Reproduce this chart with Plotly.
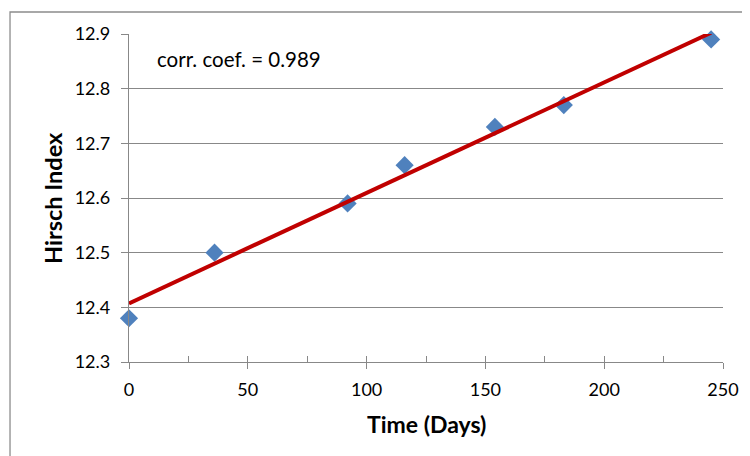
import numpy as np
import plotly.graph_objects as go

days = [0, 36, 92, 116, 154, 183, 245]
h_index = [12.38, 12.50, 12.59, 12.66, 12.73, 12.77, 12.89]
x_ticks = [0, 50, 100, 150, 200, 250]
y_ticks = [12.3, 12.4, 12.5, 12.6, 12.7, 12.8, 12.9]
corr_label = "corr. coef. = 0.989"

slope, intercept = np.polyfit(days, h_index, 1)
trend_x = [min(days), max(days)]
trend_y = [intercept + slope * v for v in trend_x]

FONT = "Lato, 'Open Sans', sans-serif"
GRID = "#888888"

fig = go.Figure()
fig.add_trace(go.Scatter(
    x=days, y=h_index, mode="markers",
    marker=dict(symbol="diamond", size=14, color="#4F81BD"),
    cliponaxis=False, showlegend=False, hoverinfo="x+y"))
fig.add_trace(go.Scatter(
    x=trend_x, y=trend_y, mode="lines",
    line=dict(color="#C00000", width=4), showlegend=False))
# invisible trace to activate the minor-tick axis
fig.add_trace(go.Scatter(x=[0], y=[12.3], xaxis="x2", mode="markers",
                         marker=dict(opacity=0), showlegend=False, hoverinfo="skip"))

fig.update_layout(
    width=750, height=456,
    margin=dict(l=121, r=35, t=26, b=102),
    paper_bgcolor="white", plot_bgcolor="white",
    font=dict(family=FONT, size=18, color="#000000"),
    xaxis=dict(range=[0, 250], tickvals=x_ticks, ticks="outside", ticklen=6,
               tickcolor=GRID, tickwidth=1.3, showgrid=False, zeroline=False,
               showline=True, linecolor=GRID, linewidth=1.3,
               tickfont=dict(size=18), ticklabelstandoff=5),
    xaxis2=dict(range=[0, 250], dtick=25, tick0=0, ticks="inside", ticklen=6,
                tickcolor=GRID, tickwidth=1.3, showticklabels=False, showgrid=False,
                zeroline=False, overlaying="x", anchor="y", side="bottom"),
    yaxis=dict(range=[12.3, 12.9], tickvals=y_ticks, ticktext=[f"{v:.1f}" for v in y_ticks],
               ticks="outside", ticklen=7, tickcolor=GRID, tickwidth=1.3,
               showgrid=True, gridcolor=GRID, gridwidth=1.3, zeroline=False,
               showline=True, linecolor=GRID, linewidth=1.3,
               tickfont=dict(size=18), ticklabelstandoff=7),
    annotations=[
        dict(text=corr_label, xref="paper", yref="paper", x=0.043, y=0.924,
             xanchor="left", yanchor="middle", showarrow=False, font=dict(size=20.5)),
        dict(text="<b>Time (Days)</b>", xref="paper", yref="paper", x=0.5, y=-0.189,
             xanchor="center", yanchor="middle", showarrow=False, font=dict(size=23)),
        dict(text="<b>Hirsch Index</b>", xref="paper", yref="paper", x=-0.128, y=0.5,
             xanchor="center", yanchor="middle", showarrow=False, textangle=-90,
             font=dict(size=23.5)),
    ],
    shapes=[dict(type="rect", xref="paper", yref="paper", x0=-0.2003, x1=1.2,
                 y0=-0.5, y1=1.067, line=dict(color="#8c8c8c", width=1.3), layer="below")],
)

fig.write_html("out.html")
